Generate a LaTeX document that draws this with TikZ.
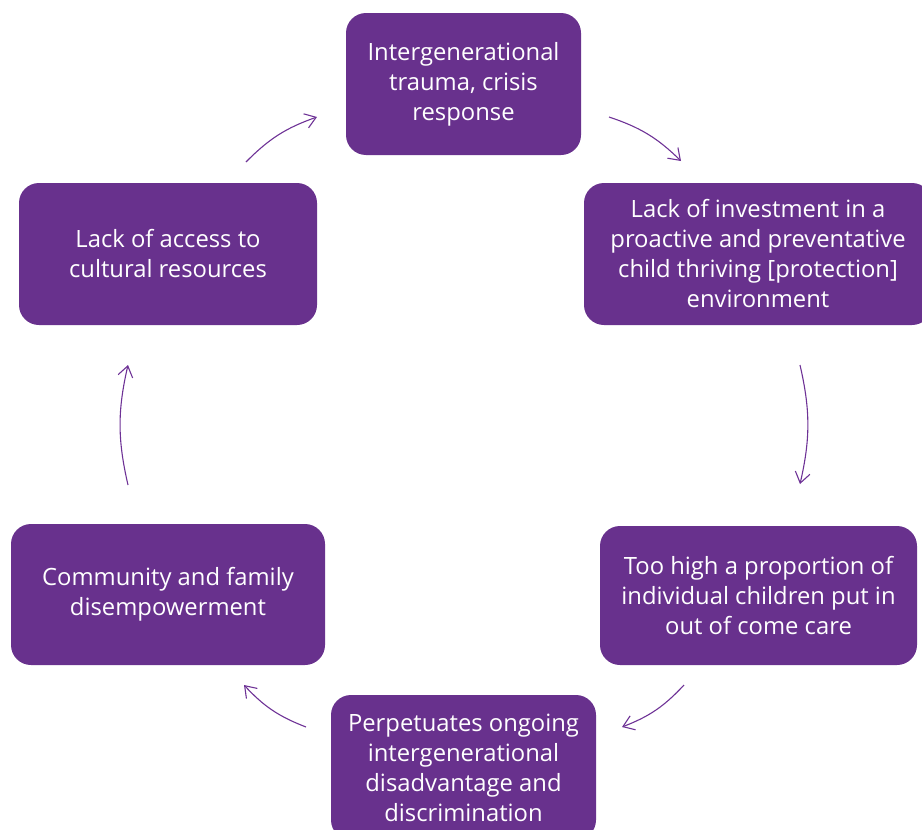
\documentclass[tikz,border=0pt]{standalone}
\usepackage{fontspec}
\setmainfont{Open Sans}
\usetikzlibrary{arrows.meta,calc}
\definecolor{boxpurple}{RGB}{104,49,141}
\definecolor{arrpurple}{RGB}{110,50,150}
\tikzset{
  cyclebox/.style={fill=boxpurple, draw=none, rounded corners=20pt, text=white,
    align=center, inner sep=0pt, font=\fontsize{23.8}{30}\selectfont},
  cyclearrow/.style={draw=arrpurple, line width=1.1pt, bend left=13,
    -{Straight Barb[angle=70:13pt, line width=1.1pt]}}
}
\begin{document}
\begin{tikzpicture}[x=1pt, y=-1pt]
\useasboundingbox (0,0) rectangle (922,830);
\node[cyclebox, minimum width=235pt, minimum height=142pt] (t) at (463.5,84)
  {Intergenerational\\trauma, crisis\\response};
\node[cyclebox, minimum width=348pt, minimum height=142pt] (r1) at (758,254)
  {Lack of investment in a\\proactive and preventative\\child thriving [protection]\\environment};
\node[cyclebox, minimum width=317pt, minimum height=139pt] (r2) at (758.5,595.5)
  {Too high a proportion of\\individual children put in\\out of come care};
\node[cyclebox, minimum width=265pt, minimum height=145pt] (b) at (463.5,767.5)
  {Perpetuates ongoing\\intergenerational\\disadvantage and\\discrimination};
\node[cyclebox, minimum width=314pt, minimum height=141pt] (l2) at (168,594.5)
  {Community and family\\disempowerment};
\node[cyclebox, minimum width=298pt, minimum height=142pt] (l1) at (168,254)
  {Lack of access to\\cultural resources};
\draw[cyclearrow] ($(t.center)+(145.5,33)$) to ($(r1.center)+(-77,-93)$);
\draw[cyclearrow] ($(r1.center)+(42,111)$) to ($(r2.center)+(41.5,-111.5)$);
\draw[cyclearrow] ($(r2.center)+(-74.5,89.5)$) to ($(b.center)+(158.5,-40.5)$);
\draw[cyclearrow] ($(b.center)+(-157.5,-40.5)$) to ($(l2.center)+(76,90.5)$);
\draw[cyclearrow] ($(l2.center)+(-40,-109.5)$) to ($(l1.center)+(-40,111)$);
\draw[cyclearrow] ($(l1.center)+(78,-92)$) to ($(t.center)+(-146.5,33)$);
\end{tikzpicture}
\end{document}
